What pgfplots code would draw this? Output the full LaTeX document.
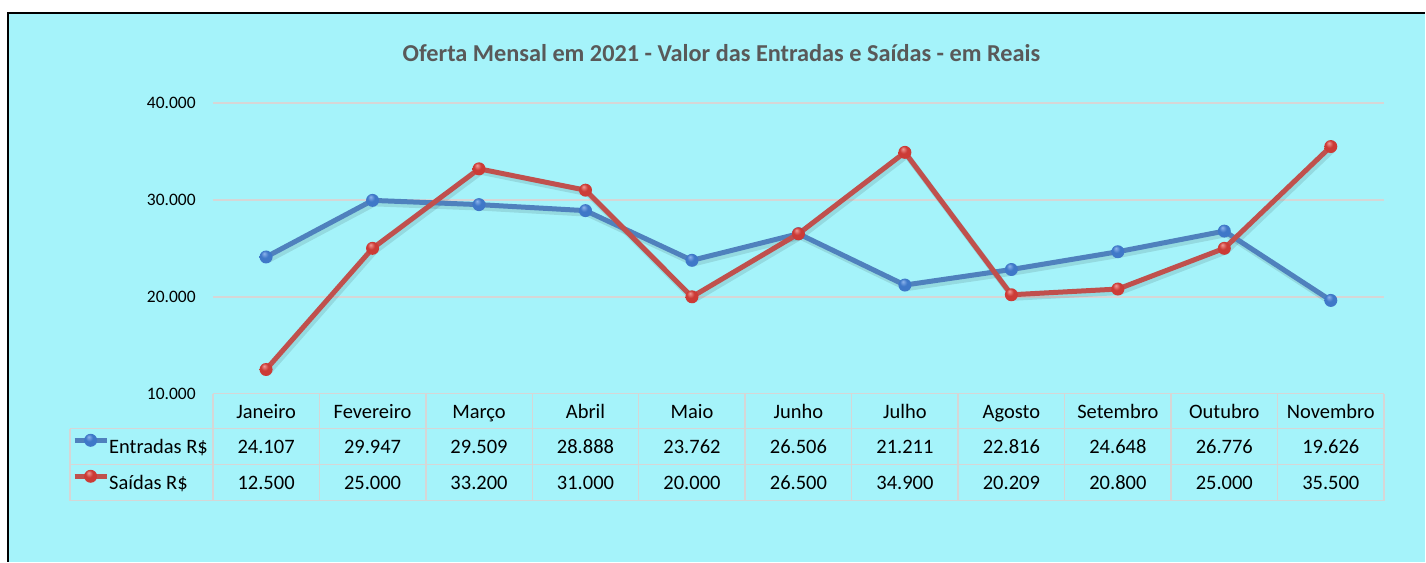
\documentclass[border=0pt]{standalone}
\usepackage{pgfplots}
\pgfplotsset{compat=1.18}
\usepackage{fontspec}
\setmainfont{Carlito}
\definecolor{bg}{HTML}{A5F3FA}
\definecolor{titlec}{HTML}{595959}
\definecolor{gridc}{HTML}{D6D6D6}
\definecolor{blueline}{HTML}{4F81BD}
\definecolor{redline}{HTML}{C0504D}
\definecolor{ballblue}{HTML}{3F78C8}
\definecolor{ballbluelight}{HTML}{8DB4EC}
\definecolor{ballbluedark}{HTML}{1F4880}
\definecolor{ballred}{HTML}{CC3B36}
\definecolor{ballredlight}{HTML}{F09A96}
\definecolor{ballreddark}{HTML}{7A1E1B}
\pgfdeclareradialshading{ballB}{\pgfpoint{-8bp}{14bp}}{color(0bp)=(ballbluelight); color(14bp)=(ballblue); color(34bp)=(ballblue); color(46bp)=(ballbluedark); color(50bp)=(ballbluedark)}
\pgfdeclareradialshading{ballR}{\pgfpoint{-8bp}{14bp}}{color(0bp)=(ballredlight); color(14bp)=(ballred); color(34bp)=(ballred); color(46bp)=(ballreddark); color(50bp)=(ballreddark)}
\pgfdeclareplotmark{ballB}{\pgfpathcircle{\pgfpointorigin}{\pgfplotmarksize}\pgfshadepath{ballB}{0}\pgfusepath{}}
\pgfdeclareplotmark{ballR}{\pgfpathcircle{\pgfpointorigin}{\pgfplotmarksize}\pgfshadepath{ballR}{0}\pgfusepath{}}
\begin{document}
\begin{tikzpicture}[x=1pt,y=1pt]
\fill[white] (0,0) rectangle (1426,562);
\fill[bg] (8.5,0) rectangle (1426,548.5);
\draw[black, line width=2pt] (8.5,0) -- (8.5,548.5) -- (1426,548.5);
\node[font=\bfseries\fontsize{24.3}{28}\selectfont, text=titlec] at (722,509) {Oferta Mensal em 2021 - Valor das Entradas e Saídas - em Reais};
% table grid
\begin{scope}[gridc, line width=1.5pt]
\draw (213,168) -- (1385,168);
\draw (70,133) -- (1385,133);
\draw (70,97) -- (1385,97);
\draw (70,61) -- (1385,61);
\draw (70,61) -- (70,133);
\foreach \k in {0,...,11} \draw ({213+106.545*\k},61) -- ({213+106.545*\k},168);
\end{scope}
\begin{axis}[
  at={(213pt,168pt)}, anchor=south west,
  scale only axis, width=1172pt, height=291pt,
  xmin=-0.5, xmax=10.5, ymin=10000, ymax=40000,
  axis line style={draw=none},
  major tick length=0pt,
  scaled y ticks=false,
  ytick={10000,20000,30000,40000},
  yticklabels={10.000,20.000,30.000,40.000},
  ymajorgrids, grid style={gridc, line width=1.5pt},
  xtick={0,...,10},
  xticklabels={Janeiro,Fevereiro,Março,Abril,Maio,Junho,Julho,Agosto,Setembro,Outubro,Novembro},
  xticklabel style={anchor=base, inner sep=0pt, yshift=-24.6pt, font=\fontsize{20.5}{24}\selectfont},
  yticklabel style={anchor=east, inner sep=0pt, xshift=-17pt, font=\fontsize{17.5}{21}\selectfont},
  /pgf/number format/assume math mode=true,
  clip=false,
  legend style={at={(-0.1203,-0.1203)}, anchor=north west, draw=none, fill=none, inner sep=0pt,
    row sep=0pt, column sep=0pt, font=\fontsize{20.5}{24}\selectfont,
    nodes={inner xsep=0pt, inner ysep=0pt, text height=24.6pt, text depth=11.4pt}},
  legend cell align=left,
  legend image code/.code={\draw[mark repeat=2,mark phase=2,#1] plot coordinates {(1pt,6.6pt) (17pt,6.6pt) (33pt,6.6pt)};},
]
\addplot[black, opacity=0.1, line width=6pt, xshift=2pt, yshift=-3pt, forget plot] coordinates {
(0,24107) (1,29947) (2,29509) (3,28888) (4,23762) (5,26506) (6,21211) (7,22816) (8,24648) (9,26776) (10,19626)};
\addplot[black, opacity=0.1, line width=6pt, xshift=2pt, yshift=-3pt, forget plot] coordinates {
(0,12500) (1,25000) (2,33200) (3,31000) (4,20000) (5,26500) (6,34900) (7,20209) (8,20800) (9,25000) (10,35500)};
\addplot[blueline, line width=5pt, mark=ballB, mark size=6.5pt] coordinates {
(0,24107) (1,29947) (2,29509) (3,28888) (4,23762) (5,26506) (6,21211) (7,22816) (8,24648) (9,26776) (10,19626)};
\addlegendentry{Entradas R\$}
\addplot[redline, line width=5pt, mark=ballR, mark size=6.5pt] coordinates {
(0,12500) (1,25000) (2,33200) (3,31000) (4,20000) (5,26500) (6,34900) (7,20209) (8,20800) (9,25000) (10,35500)};
\addlegendentry{Saídas R\$}
\end{axis}
\foreach \v [count=\i from 0] in {24.107,29.947,29.509,28.888,23.762,26.506,21.211,22.816,24.648,26.776,19.626}
  \node[anchor=base, inner sep=0pt, font=\fontsize{20.5}{24}\selectfont] at ({213+106.545*(\i+0.5)},108.4) {\v};
\foreach \v [count=\i from 0] in {12.500,25.000,33.200,31.000,20.000,26.500,34.900,20.209,20.800,25.000,35.500}
  \node[anchor=base, inner sep=0pt, font=\fontsize{20.5}{24}\selectfont] at ({213+106.545*(\i+0.5)},72.4) {\v};
\end{tikzpicture}
\end{document}
